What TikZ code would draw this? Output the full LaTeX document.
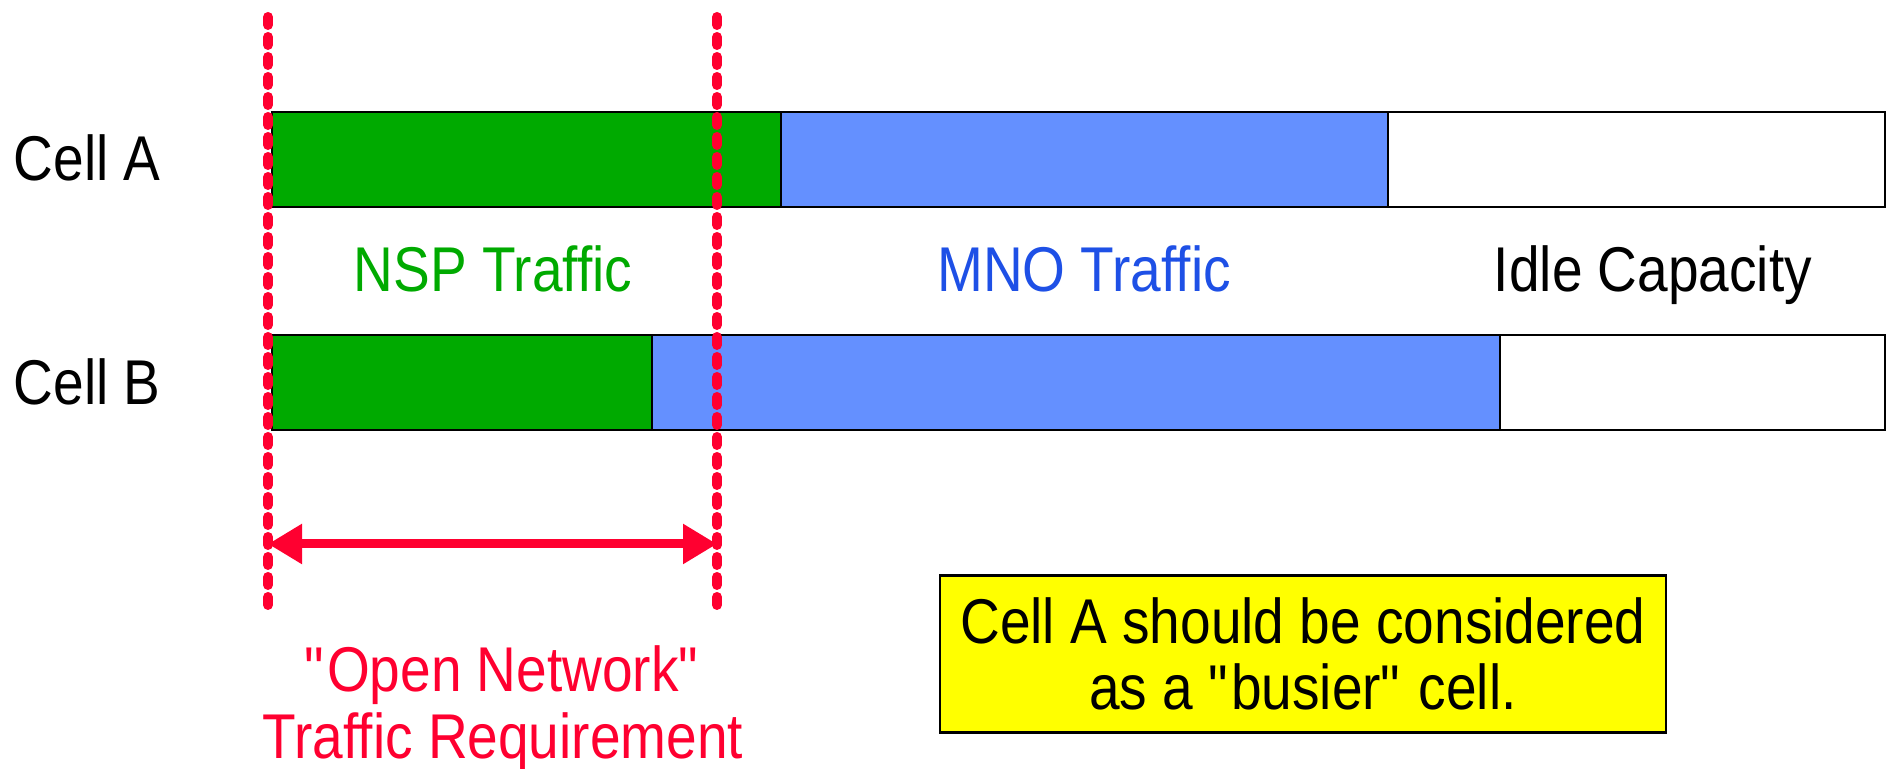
\documentclass[tikz,border=0pt]{standalone}
\usepackage{fontspec}
\setmainfont{Liberation Sans}[FakeStretch=0.87]
\usetikzlibrary{arrows.meta,
                positioning
            }

\definecolor{nspgreen}{HTML}{00AA00}
\definecolor{mnoblue}{HTML}{6490FF}
\definecolor{mnotext}{HTML}{1E50E6}
\definecolor{reqred}{HTML}{FF0030}
\definecolor{notebg}{HTML}{FFFF00}

\tikzset{
    celltext/.style={font=\fontsize{18}{19}\selectfont, inner sep=0pt},
    bar/.style={draw=black, line width=0.6pt},
    limit/.style={draw=reqred, line width=0.1cm, line cap=round,
                  dash pattern=on 0.08cm off 0.12cm}
}

\begin{document}
\begin{tikzpicture}
            \useasboundingbox (0, 0) rectangle (18.89, 7.69);
            % cell A
            \draw[bar, fill=nspgreen] (2.72, 6.57) rectangle (7.81, 5.62);
            \draw[bar, fill=mnoblue] (7.81, 6.57) rectangle (13.88, 5.62);
            \draw[bar, fill=white] (13.88, 6.57) rectangle (18.85, 5.62);
            % cell B
            \draw[bar, fill=nspgreen] (2.72, 4.34) rectangle (6.52, 3.39);
            \draw[bar, fill=mnoblue] (6.52, 4.34) rectangle (15.00, 3.39);
            \draw[bar, fill=white] (15.00, 4.34) rectangle (18.85, 3.39);

            \node[celltext, anchor=base west] (cellA) at (0.13, 5.88) {Cell A};
            \node[celltext, anchor=base west] (cellB) at (0.13, 3.64) {Cell B};
            \node[celltext, anchor=base, text=nspgreen] (nsp) at (4.93, 4.77) {NSP Traffic};
            \node[celltext, anchor=base, text=mnotext] (mno) at (10.84, 4.77) {MNO Traffic};
            \node[celltext, anchor=base] (idle) at (16.53, 4.77) {Idle Capacity};

            % open network limits
            \coordinate (lowTop) at (2.68, 7.52);
            \coordinate (lowBot) at (2.68, 1.62);
            \coordinate (highTop) at (7.17, 7.52);
            \coordinate (highBot) at (7.17, 1.62);
            \draw[limit] (lowTop) -- (lowBot);
            \draw[limit] (highTop) -- (highBot);

            \coordinate (spanL) at (2.68, 2.25);
            \coordinate (spanR) at (7.17, 2.25);
            \draw[reqred, line width=0.09cm,
                  {Triangle[length=0.34cm, width=0.38cm]}-{Triangle[length=0.34cm, width=0.38cm]}]
                (spanL) -- (spanR);

            \node[celltext, anchor=north, align=center, text=reqred] (req) at (5.03, 1.24)
                {\textquotedbl Open Network\textquotedbl\\Traffic Requirement};

            \node[celltext, draw, line width=0.6pt, fill=notebg, align=center,
                  minimum width=7.26cm, minimum height=1.57cm] (note) at (13.03, 1.15)
                {Cell A should be considered\\as a \textquotedbl busier\textquotedbl{} cell.};
        \end{tikzpicture}
\end{document}
